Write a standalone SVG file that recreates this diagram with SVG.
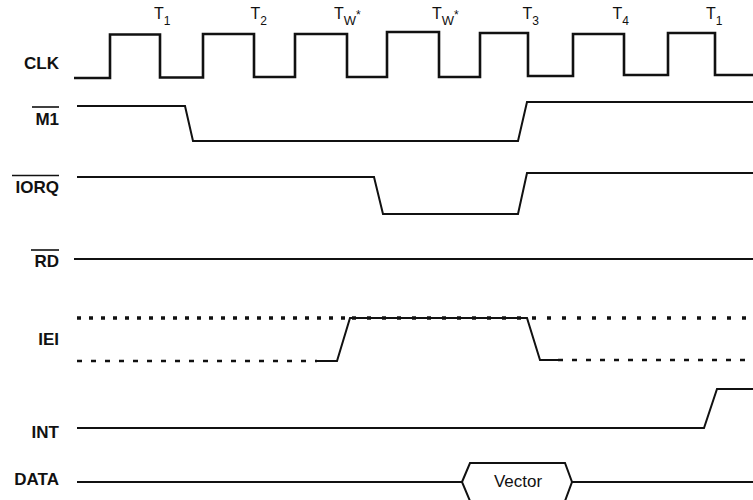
<svg xmlns="http://www.w3.org/2000/svg" width="753" height="500" viewBox="0 0 753 500">
<style>
.lbl{font-family:"Liberation Sans",Arial,sans-serif;font-weight:bold;font-size:17px;fill:#111;text-anchor:end}
.tl{font-family:"Liberation Sans",Arial,sans-serif;font-size:16px;fill:#111}
.sub{font-size:12px}
.sig{fill:none;stroke:#111;stroke-width:2;stroke-linejoin:miter}
.clk{fill:none;stroke:#111;stroke-width:2.6}
.ov{stroke:#111;stroke-width:1.6}
.dotu{fill:none;stroke:#111;stroke-width:3.5;stroke-dasharray:4 8}
.dotl{fill:none;stroke:#111;stroke-width:2.5;stroke-dasharray:5 9}
</style>
<rect width="753" height="500" fill="#fff"/>
<g id="phase-labels">
<text class="tl" x="154" y="19">T<tspan class="sub" dy="6">1</tspan></text>
<text class="tl" x="250.5" y="19">T<tspan class="sub" dy="6">2</tspan></text>
<text class="tl" x="334" y="19">T<tspan class="sub" style="font-size:13px" dy="6">W</tspan><tspan class="sub" dy="-6">*</tspan></text>
<text class="tl" x="432" y="19">T<tspan class="sub" style="font-size:13px" dy="6">W</tspan><tspan class="sub" dy="-6">*</tspan></text>
<text class="tl" x="522.5" y="19">T<tspan class="sub" dy="6">3</tspan></text>
<text class="tl" x="612.5" y="19">T<tspan class="sub" dy="6">4</tspan></text>
<text class="tl" x="706" y="19">T<tspan class="sub" dy="6">1</tspan></text>
</g>
<g id="clk">
<text class="lbl" x="59" y="69">CLK</text>
<path class="clk" d="M74,78 H110 V34.5 H160 V77.5 H203 V34 H254 V77 H295 V34 H347 V77 H387 V32 H439 V77 H480 V33 H528 V76 H573 V34 H624 V75 H668 V33 H715 V75 H753"/>
</g>
<g id="m1">
<line class="ov" x1="32" y1="107" x2="59" y2="107"/>
<text class="lbl" x="59" y="125">M1</text>
<path class="sig" d="M77,106 H185 L193,141 H518 L527,102 H753"/>
</g>
<g id="iorq">
<line class="ov" x1="12" y1="175.5" x2="59" y2="175.5"/>
<text class="lbl" x="59" y="192.5">IORQ</text>
<path class="sig" d="M77,177 H374 L383,214 H518 L527,173 H753"/>
</g>
<g id="rd">
<line class="ov" x1="31" y1="250" x2="59" y2="250"/>
<text class="lbl" x="59" y="267">RD</text>
<path class="sig" d="M74,259 H753"/>
</g>
<g id="iei">
<text class="lbl" x="59" y="345">IEI</text>
<path class="dotu" d="M77,318 H352"/>
<path class="dotu" d="M352,318 H753" style="stroke-dasharray:4 11"/>
<path class="dotl" d="M77,361 H317"/>
<path class="dotl" d="M558,360 H753"/>
<path class="sig" d="M317,361 H337 L350,318 H527 L540,360 H558"/>
</g>
<g id="int">
<text class="lbl" x="59" y="438">INT</text>
<path class="sig" d="M77,428 H704 L717,389 H753"/>
</g>
<g id="data">
<text class="lbl" x="59" y="485">DATA</text>
<path class="sig" d="M77,482 H462 M572,482 H753"/>
<path class="sig" d="M462,482 L470,463 H565 L572,482 L565,501 H470 Z"/>
<text class="tl" x="518" y="487" text-anchor="middle" style="font-size:17px">Vector</text>
</g>
</svg>
